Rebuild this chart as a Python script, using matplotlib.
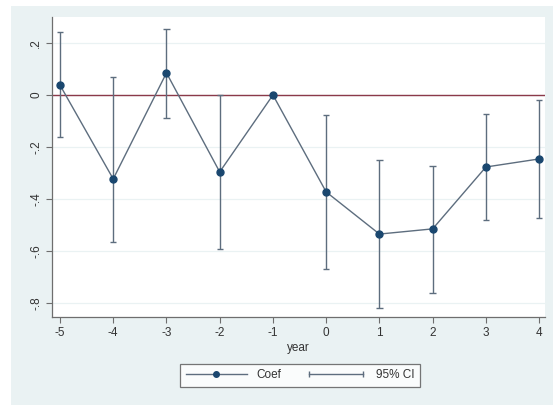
import matplotlib
matplotlib.use("Agg")
import matplotlib.pyplot as plt
from matplotlib.lines import Line2D
from matplotlib.patches import Rectangle
from matplotlib.legend_handler import HandlerLine2D

# event-study coefficients by year relative to treatment
years = [-5, -4, -3, -2, -1, 0, 1, 2, 3, 4]
coef = [0.038, -0.323, 0.085, -0.296, 0.0, -0.373, -0.535, -0.515, -0.277, -0.246]
ci_low = [-0.162, -0.565, -0.088, -0.592, 0.0, -0.669, -0.820, -0.762, -0.481, -0.473]
ci_high = [0.242, 0.069, 0.254, 0.0, 0.0, -0.077, -0.250, -0.273, -0.073, -0.019]
yticks = [0.2, 0.0, -0.2, -0.4, -0.6, -0.8]
ytick_labels = [".2", "0", "-.2", "-.4", "-.6", "-.8"]

BG = "#eaf2f3"
NAVY = "#1a476f"
LINE = "#5d6d7e"
AXIS = "#6e6e6e"

plt.rcParams["font.family"] = "Liberation Sans"

fig = plt.figure(figsize=(5.53, 4.05), dpi=100, facecolor="white")
fig.add_artist(Rectangle((11 / 553, 0), 1, 1 - 6 / 405, transform=fig.transFigure,
                         facecolor=BG, edgecolor="none", zorder=-10))

ax = fig.add_axes([52 / 553, 88 / 405, 493 / 553, 300 / 405])
ax.set_facecolor("white")

for y in yticks:
    ax.axhline(y, color=BG, lw=0.9, zorder=1)
ax.axhline(0, color="#8b3a4a", lw=1.0, zorder=2)

for x, lo, hi in zip(years, ci_low, ci_high):
    if hi > lo:
        ax.vlines(x, lo, hi, color=LINE, lw=1.0, zorder=3)
        ax.hlines([lo, hi], x - 0.06, x + 0.06, color=LINE, lw=1.0, zorder=3)

ax.plot(years, coef, color=LINE, lw=1.0, zorder=4)
ax.plot(years, coef, "o", color=NAVY, ms=5, zorder=5)

ax.set_xlim(-5.15, 4.11)
ax.set_ylim(-0.854, 0.30)
ax.set_xticks(years)
ax.set_xticklabels([str(y) for y in years])
ax.set_yticks(yticks)
ax.set_yticklabels(ytick_labels, rotation=90, va="center")
ax.tick_params(axis="both", direction="out", length=4, width=0.8, color=AXIS,
               labelsize=8.5, labelcolor="#333333", pad=3)
for side in ["top", "right"]:
    ax.spines[side].set_visible(False)
for side in ["left", "bottom"]:
    ax.spines[side].set_color(AXIS)
    ax.spines[side].set_linewidth(0.9)
ax.set_xlabel("year", fontsize=8.5, color="#333333", labelpad=2)

h_coef = Line2D([], [], color=LINE, lw=1.0, marker="o", ms=4,
                markerfacecolor=NAVY, markeredgecolor=NAVY)
h_ci = Line2D([], [], color=LINE, lw=1.0, marker="|", ms=4)
leg = fig.legend([h_coef, h_ci], ["Coef", "95% CI"], loc="center",
                 bbox_to_anchor=(300 / 553, 1 - 375.5 / 405), ncol=2,
                 fontsize=8.5, frameon=True, fancybox=False, handlelength=5.2,
                 columnspacing=2.0, handletextpad=0.8, borderpad=0.5,
                 numpoints=1, handler_map={h_ci: HandlerLine2D(numpoints=2)})
leg.get_frame().set_edgecolor("#555555")
leg.get_frame().set_linewidth(0.9)
for t in leg.get_texts():
    t.set_color("#333333")

fig.savefig("out.png", dpi=100, facecolor="white")
